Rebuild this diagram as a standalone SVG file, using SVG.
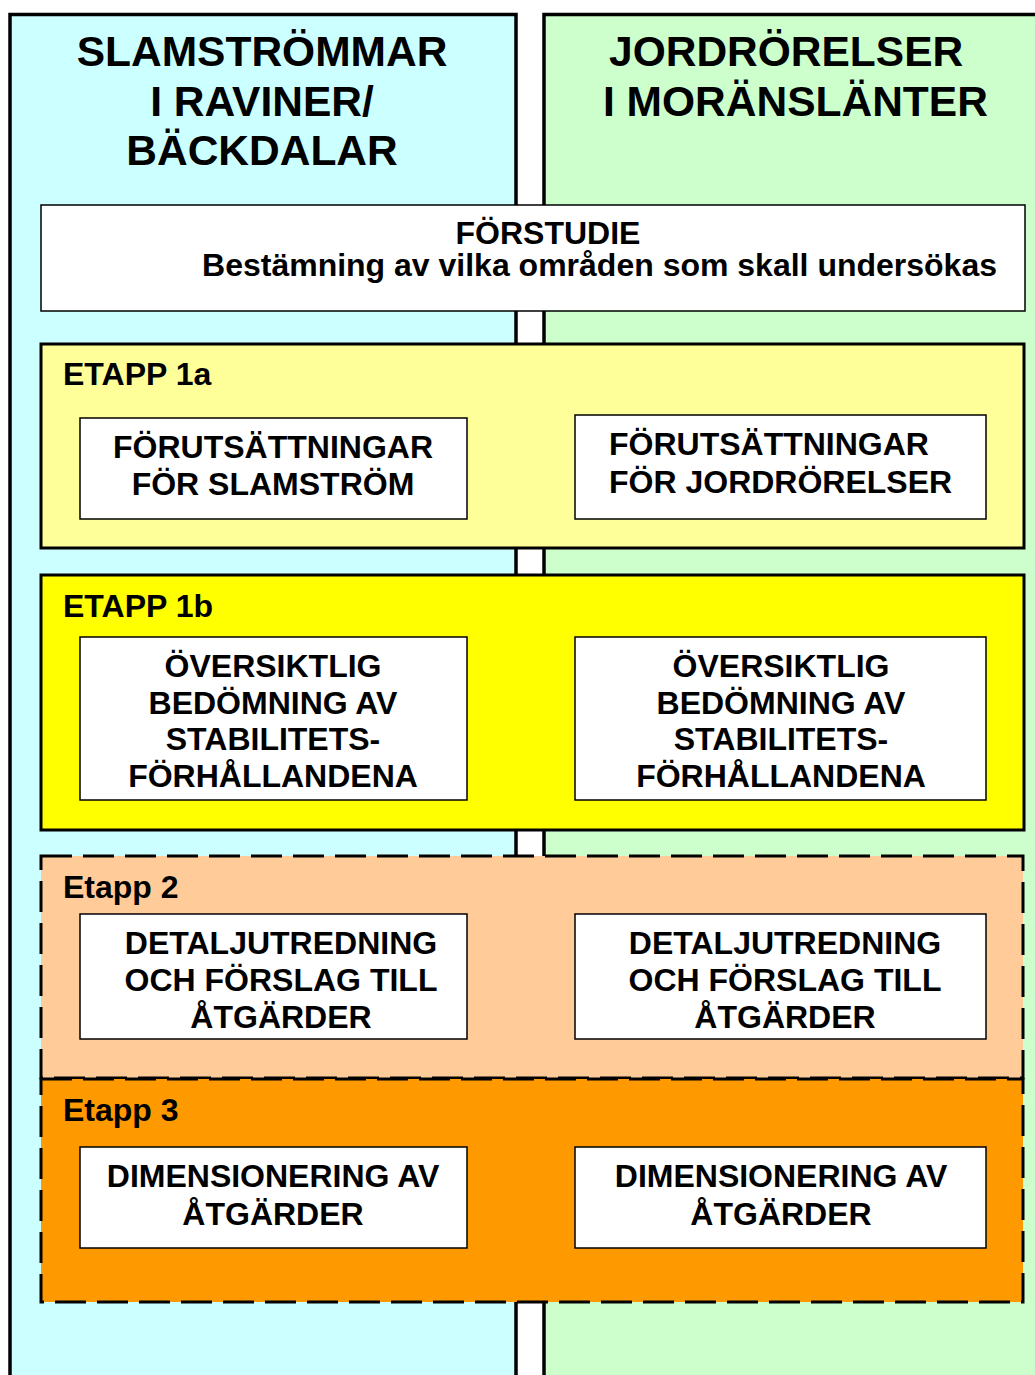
<svg xmlns="http://www.w3.org/2000/svg" width="1035" height="1375" viewBox="0 0 1035 1375">
<style>
text{font-family:"Liberation Sans",Arial,sans-serif;font-weight:bold;fill:#000}
.t{font-size:42.5px}
.h{font-size:32px}
.b{font-size:32px;text-anchor:middle}
.col{stroke:#000;stroke-width:3.5}
.solid{stroke:#000;stroke-width:3}
.dash{stroke:#000;stroke-width:3;stroke-dasharray:31 11}
.box{fill:#fff;stroke:#000;stroke-width:1.5}
</style>
<rect width="1035" height="1375" fill="#fff"/>
<g id="col-left">
<rect class="col" x="10" y="14.5" width="506" height="1400" fill="#CCFFFF"/>
<text class="t" x="262" y="66" text-anchor="middle">SLAMSTRÖMMAR</text>
<text class="t" x="262" y="116" text-anchor="middle">I RAVINER/</text>
<text class="t" x="262" y="165" text-anchor="middle">BÄCKDALAR</text>
</g>
<g id="col-right">
<rect class="col" x="544" y="14.5" width="600" height="1400" fill="#CCFFCC"/>
<text class="t" x="609" y="66">JORDRÖRELSER</text>
<text class="t" x="603" y="116">I MORÄNSLÄNTER</text>
</g>
<g id="forstudie">
<rect class="box" x="41" y="205" width="984" height="106"/>
<text class="h" x="548" y="244" text-anchor="middle">FÖRSTUDIE</text>
<text class="h" x="997" y="276" text-anchor="end">Bestämning av vilka områden som skall undersökas</text>
</g>
<g id="etapp1a">
<rect class="solid" x="41" y="344" width="983" height="204" fill="#FFFF99"/>
<text class="h" x="63" y="385">ETAPP 1a</text>
</g>
<g id="etapp1a-left">
<rect class="box" x="80" y="418" width="387" height="101"/>
<text class="b" x="273" y="458">FÖRUTSÄTTNINGAR</text>
<text class="b" x="273" y="495">FÖR SLAMSTRÖM</text>
</g>
<g id="etapp1a-right">
<rect class="box" x="575" y="415" width="411" height="104"/>
<text class="h" x="609" y="455">FÖRUTSÄTTNINGAR</text>
<text class="h" x="609" y="493">FÖR JORDRÖRELSER</text>
</g>
<g id="etapp1b">
<rect class="solid" x="41" y="575" width="983" height="255" fill="#FFFF00"/>
<text class="h" x="63" y="617">ETAPP 1b</text>
</g>
<g id="etapp1b-left">
<rect class="box" x="80" y="637" width="387" height="163"/>
<text class="b" x="273" y="677">ÖVERSIKTLIG</text>
<text class="b" x="273" y="714">BEDÖMNING AV</text>
<text class="b" x="273" y="750">STABILITETS-</text>
<text class="b" x="273" y="787">FÖRHÅLLANDENA</text>
</g>
<g id="etapp1b-right">
<rect class="box" x="575" y="637" width="411" height="163"/>
<text class="b" x="781" y="677">ÖVERSIKTLIG</text>
<text class="b" x="781" y="714">BEDÖMNING AV</text>
<text class="b" x="781" y="750">STABILITETS-</text>
<text class="b" x="781" y="787">FÖRHÅLLANDENA</text>
</g>
<g id="etapp2">
<rect class="dash" x="41" y="856" width="982" height="222" fill="#FFCC99"/>
<text class="h" x="63" y="898">Etapp 2</text>
</g>
<g id="etapp2-left">
<rect class="box" x="80" y="914" width="387" height="125"/>
<text class="b" x="281" y="954">DETALJUTREDNING</text>
<text class="b" x="281" y="991">OCH FÖRSLAG TILL</text>
<text class="b" x="281" y="1028">ÅTGÄRDER</text>
</g>
<g id="etapp2-right">
<rect class="box" x="575" y="914" width="411" height="125"/>
<text class="b" x="785" y="954">DETALJUTREDNING</text>
<text class="b" x="785" y="991">OCH FÖRSLAG TILL</text>
<text class="b" x="785" y="1028">ÅTGÄRDER</text>
</g>
<g id="etapp3">
<rect class="dash" x="41" y="1079" width="982" height="223" fill="#FF9900"/>
<text class="h" x="63" y="1121">Etapp 3</text>
</g>
<g id="etapp3-left">
<rect class="box" x="80" y="1147" width="387" height="101"/>
<text class="b" x="273" y="1187">DIMENSIONERING AV</text>
<text class="b" x="273" y="1225">ÅTGÄRDER</text>
</g>
<g id="etapp3-right">
<rect class="box" x="575" y="1147" width="411" height="101"/>
<text class="b" x="781" y="1187">DIMENSIONERING AV</text>
<text class="b" x="781" y="1225">ÅTGÄRDER</text>
</g>
<g id="connectors"/>
</svg>
